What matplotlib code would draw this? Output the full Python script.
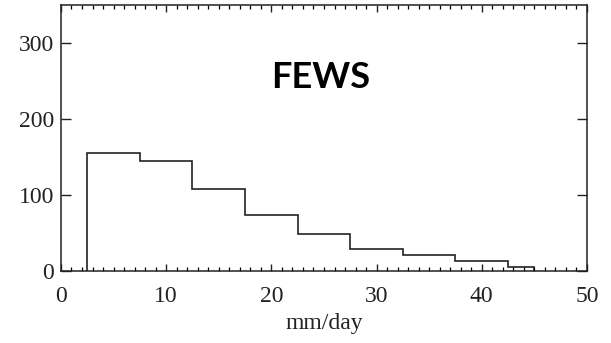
import numpy as np
import matplotlib
matplotlib.use("Agg")
import matplotlib.pyplot as plt
from matplotlib.ticker import MultipleLocator

# histogram of daily rainfall (FEWS)
bin_edges = [2.5, 7.5, 12.5, 17.5, 22.5, 27.5, 32.5, 37.5, 42.5, 45.0]
counts = [155, 145, 107, 73, 48, 28, 21, 13, 5]
x_ticks = [0, 10, 20, 30, 40, 50]
y_ticks = [0, 100, 200, 300]

fig = plt.figure(figsize=(6.11, 3.43), dpi=100)
ax = fig.add_axes([0.0998, 0.2108, 0.8609, 0.7746])

ax.stairs(counts, bin_edges, baseline=0, fill=False, color="#222222", linewidth=1.2)

ax.set_xlim(0, 50)
ax.set_ylim(0, 350)
ax.set_xticks(x_ticks)
ax.set_yticks(y_ticks)
ax.xaxis.set_minor_locator(MultipleLocator(1))

for s in ax.spines.values():
    s.set_linewidth(1.1)
    s.set_color("#222222")

ax.tick_params(axis="x", which="major", direction="in", length=5, width=1.0,
               top=True, pad=11, labelsize=17, colors="#222222")
ax.tick_params(axis="x", which="minor", direction="in", length=3, width=0.9, top=True)
ax.tick_params(axis="y", which="major", direction="in", length=7, width=1.0,
               right=True, pad=5, labelsize=17, colors="#222222")

for lab in ax.get_xticklabels() + ax.get_yticklabels():
    lab.set_family("Liberation Serif")

ax.set_xlabel("mm/day", family="Liberation Serif", fontsize=17, labelpad=4, color="#222222")

ax.text(0.494, 0.729, "FEWS", transform=ax.transAxes, ha="center", va="center",
        family="Lato", fontweight="bold", fontsize=26, color="black")

fig.savefig("out.png", dpi=100)
